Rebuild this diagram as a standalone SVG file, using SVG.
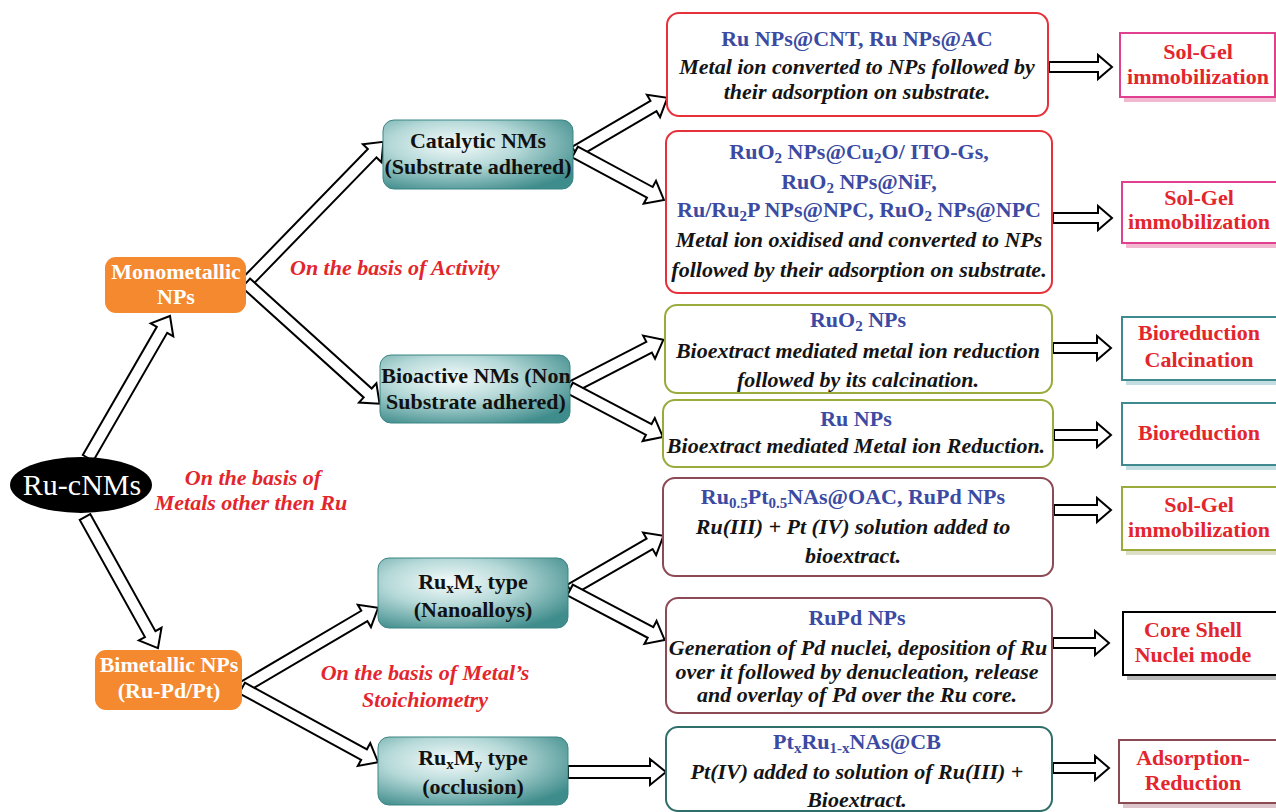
<svg xmlns="http://www.w3.org/2000/svg" width="1276" height="812" viewBox="0 0 1276 812" font-family="'Liberation Serif', 'Times New Roman', 'DejaVu Serif', serif">
<defs>
<radialGradient id="teal" cx="38%" cy="35%" r="75%">
<stop offset="0" stop-color="#f6fbfb"/>
<stop offset="0.45" stop-color="#b5d9d8"/>
<stop offset="1" stop-color="#3e8c8b"/>
</radialGradient>
<style>
text{font-family:'Liberation Serif','Times New Roman','DejaVu Serif',serif;font-weight:bold;font-size:22px;text-anchor:middle}
.w{fill:#ffffff}
.k{fill:#111111}
.b{fill:#3b4aa2}
.i{font-style:italic;fill:#141414}
.r{fill:#e3262d;font-style:italic}
.rr{fill:#e3262d}
.sub{font-size:15px}
.orange{fill:#f4892f}
.tn{fill:url(#teal);stroke:#3a8584;stroke-width:1}
.box{fill:#ffffff;stroke-width:2}
.arr{fill:#ffffff;stroke:#000000;stroke-width:2;stroke-linejoin:miter}
</style>
</defs>
<rect width="1276" height="812" fill="#ffffff"/>

<g id="connectors">
<polygon class="arr" transform="translate(88,458) rotate(-60)" points="0,-6 148,-6 148,-13 164,0 148,13 148,6 0,6"/>
<polygon class="arr" transform="translate(85,517) rotate(60.9)" points="0,-6 134,-6 134,-13 150,0 134,13 134,6 0,6"/>
<polygon class="arr" transform="translate(246,283) rotate(-45.8)" points="0,-6 181,-6 181,-13 197,0 181,13 181,6 0,6"/>
<polygon class="arr" transform="translate(246,283) rotate(42.1)" points="0,-6 164,-6 164,-13 180,0 164,13 164,6 0,6"/>
<polygon class="arr" transform="translate(242,688) rotate(-30.5)" points="0,-6 142,-6 142,-13 158,0 142,13 142,6 0,6"/>
<polygon class="arr" transform="translate(242,688) rotate(28.6)" points="0,-6 139,-6 139,-13 155,0 139,13 139,6 0,6"/>
<polygon class="arr" transform="translate(575,152) rotate(-30.4)" points="0,-6 91,-6 91,-13 107,0 91,13 91,6 0,6"/>
<polygon class="arr" transform="translate(575,152) rotate(28.3)" points="0,-6 85,-6 85,-13 101,0 85,13 85,6 0,6"/>
<polygon class="arr" transform="translate(570,388) rotate(-27.3)" points="0,-6 89,-6 89,-13 105,0 89,13 89,6 0,6"/>
<polygon class="arr" transform="translate(570,388) rotate(27.8)" points="0,-6 89,-6 89,-13 105,0 89,13 89,6 0,6"/>
<polygon class="arr" transform="translate(570,590) rotate(-30.1)" points="0,-6 92,-6 92,-13 108,0 92,13 92,6 0,6"/>
<polygon class="arr" transform="translate(570,590) rotate(27.8)" points="0,-6 91,-6 91,-13 107,0 91,13 91,6 0,6"/>
<polygon class="arr" transform="translate(568,772)" points="0,-6 82,-6 82,-13 98,0 82,13 82,6 0,6"/>
<polygon class="arr" transform="translate(1049,67)" points="0,-5 49,-5 49,-12 63,0 49,12 49,5 0,5"/>
<polygon class="arr" transform="translate(1053,218)" points="0,-5 45,-5 45,-12 59,0 45,12 45,5 0,5"/>
<polygon class="arr" transform="translate(1053,348)" points="0,-5 44,-5 44,-12 58,0 44,12 44,5 0,5"/>
<polygon class="arr" transform="translate(1054,435)" points="0,-5 43,-5 43,-12 57,0 43,12 43,5 0,5"/>
<polygon class="arr" transform="translate(1054,510)" points="0,-5 43,-5 43,-12 57,0 43,12 43,5 0,5"/>
<polygon class="arr" transform="translate(1053,643)" points="0,-5 42,-5 42,-12 56,0 42,12 42,5 0,5"/>
<polygon class="arr" transform="translate(1053,768)" points="0,-5 42,-5 42,-12 56,0 42,12 42,5 0,5"/>
</g>

<g id="labels">
<text class="r" x="290" y="275" style="text-anchor:start">On the basis of Activity</text>
<text class="r" x="253" y="485">On the basis of</text>
<text class="r" x="251" y="510">Metals other then Ru</text>
<text class="r" x="425" y="680">On the basis of Metal’s</text>
<text class="r" x="425" y="707">Stoichiometry</text>
</g>

<g id="ru-cnms">
<ellipse cx="81" cy="485" rx="71" ry="28" fill="#000000"/>
<text class="w" x="82" y="495" style="font-size:30px;font-weight:normal">Ru-cNMs</text>
</g>

<g id="monometallic">
<rect class="orange" x="105" y="257" width="141" height="56" rx="11"/>
<text class="w" x="176" y="279">Monometallic</text>
<text class="w" x="176" y="304">NPs</text>
</g>

<g id="bimetallic">
<rect class="orange" x="95" y="650" width="147" height="60" rx="11"/>
<text class="w" x="169" y="672">Bimetallic NPs</text>
<text class="w" x="169" y="698">(Ru-Pd/Pt)</text>
</g>

<g id="catalytic">
<rect class="tn" x="383" y="120" width="190" height="69" rx="11"/>
<text class="k" x="478" y="148">Catalytic NMs</text>
<text class="k" x="478" y="174">(Substrate adhered)</text>
</g>

<g id="bioactive">
<rect class="tn" x="380" y="355" width="190" height="68" rx="11"/>
<text class="k" x="476" y="383">Bioactive NMs (Non</text>
<text class="k" x="476" y="409">Substrate adhered)</text>
</g>

<g id="ruxmx">
<rect class="tn" x="378" y="558" width="190" height="70" rx="11"/>
<text class="k" x="473" y="589">Ru<tspan class="sub" dy="4">x</tspan><tspan dy="-4">M</tspan><tspan class="sub" dy="4">x</tspan><tspan dy="-4"> type</tspan></text>
<text class="k" x="473" y="617">(Nanoalloys)</text>
</g>

<g id="ruxmy">
<rect class="tn" x="378" y="737" width="190" height="68" rx="11"/>
<text class="k" x="473" y="765">Ru<tspan class="sub" dy="4">x</tspan><tspan dy="-4">M</tspan><tspan class="sub" dy="4">y</tspan><tspan dy="-4"> type</tspan></text>
<text class="k" x="473" y="794">(occlusion)</text>
</g>

<g id="box1">
<rect class="box" x="667" y="13" width="381" height="103" rx="12" stroke="#e8303a"/>
<text class="b" x="857" y="46">Ru NPs@CNT, Ru NPs@AC</text>
<text class="i" x="857" y="74">Metal ion converted to NPs followed by</text>
<text class="i" x="857" y="99">their adsorption on substrate.</text>
</g>

<g id="box2">
<rect class="box" x="666" y="131" width="386" height="162" rx="12" stroke="#e8303a"/>
<text class="b" x="859" y="159">RuO<tspan class="sub" dy="4">2</tspan><tspan dy="-4"> NPs@Cu</tspan><tspan class="sub" dy="4">2</tspan><tspan dy="-4">O/ ITO-Gs,</tspan></text>
<text class="b" x="859" y="189">RuO<tspan class="sub" dy="4">2</tspan><tspan dy="-4"> NPs@NiF,</tspan></text>
<text class="b" x="859" y="217">Ru/Ru<tspan class="sub" dy="4">2</tspan><tspan dy="-4">P NPs@NPC, RuO</tspan><tspan class="sub" dy="4">2</tspan><tspan dy="-4"> NPs@NPC</tspan></text>
<text class="i" x="859" y="247">Metal ion oxidised and converted to NPs</text>
<text class="i" x="859" y="277">followed by their adsorption on substrate.</text>
</g>

<g id="box3">
<rect class="box" x="665" y="305" width="387" height="88" rx="12" stroke="#9aab3c"/>
<text class="b" x="858" y="327">RuO<tspan class="sub" dy="4">2</tspan><tspan dy="-4"> NPs</tspan></text>
<text class="i" x="858" y="358">Bioextract mediated metal ion reduction</text>
<text class="i" x="858" y="387">followed by its calcination.</text>
</g>

<g id="box4">
<rect class="box" x="663" y="400" width="390" height="67" rx="12" stroke="#9aab3c"/>
<text class="b" x="856" y="426">Ru NPs</text>
<text class="i" x="856" y="453">Bioextract mediated Metal ion Reduction.</text>
</g>

<g id="box5">
<rect class="box" x="663" y="478" width="390" height="98" rx="12" stroke="#8c4a55"/>
<text class="b" x="853" y="504">Ru<tspan class="sub" dy="4">0.5</tspan><tspan dy="-4">Pt</tspan><tspan class="sub" dy="4">0.5</tspan><tspan dy="-4">NAs@OAC, RuPd NPs</tspan></text>
<text class="i" x="853" y="534">Ru(III) + Pt (IV) solution added to</text>
<text class="i" x="853" y="563">bioextract.</text>
</g>

<g id="box6">
<rect class="box" x="666" y="598" width="386" height="115" rx="12" stroke="#8c4a55"/>
<text class="b" x="857" y="625">RuPd NPs</text>
<text class="i" x="858" y="655">Generation of Pd nuclei, deposition of Ru</text>
<text class="i" x="857" y="679">over it followed by denucleation, release</text>
<text class="i" x="857" y="702">and overlay of Pd over the Ru core.</text>
</g>

<g id="box7">
<rect class="box" x="666" y="727" width="386" height="84" rx="12" stroke="#2f6f6a"/>
<text class="b" x="857" y="749">Pt<tspan class="sub" dy="4">x</tspan><tspan dy="-4">Ru</tspan><tspan class="sub" dy="4">1-x</tspan><tspan dy="-4">NAs@CB</tspan></text>
<text class="i" x="857" y="779">Pt(IV) added to solution of Ru(III) +</text>
<text class="i" x="857" y="807">Bioextract.</text>
</g>

<g id="solgel1">
<rect x="1124" y="38" width="155" height="64" fill="#f2b8cf"/>
<rect class="box" x="1120" y="33" width="155" height="64" stroke="#e0408f"/>
<text class="rr" x="1198" y="59">Sol-Gel</text>
<text class="rr" x="1198" y="84">immobilization</text>
</g>

<g id="solgel2">
<rect x="1126" y="187" width="155" height="61" fill="#f2b8cf"/>
<rect class="box" x="1122" y="182" width="155" height="61" stroke="#e0408f"/>
<text class="rr" x="1199" y="205">Sol-Gel</text>
<text class="rr" x="1199" y="229">immobilization</text>
</g>

<g id="biocalc">
<rect x="1126" y="322" width="155" height="63" fill="#c4dde0"/>
<rect class="box" x="1122" y="317" width="155" height="63" stroke="#3f8a8f"/>
<text class="rr" x="1199" y="340">Bioreduction</text>
<text class="rr" x="1199" y="367">Calcination</text>
</g>

<g id="bioreduction">
<rect x="1126" y="408" width="155" height="62" fill="#c4dde0"/>
<rect class="box" x="1122" y="403" width="155" height="62" stroke="#3f8a8f"/>
<text class="rr" x="1199" y="440">Bioreduction</text>
</g>

<g id="solgel3">
<rect x="1126" y="492" width="155" height="63" fill="#dcdfc6"/>
<rect class="box" x="1122" y="487" width="155" height="63" stroke="#9aab3c"/>
<text class="rr" x="1199" y="512">Sol-Gel</text>
<text class="rr" x="1199" y="537">immobilization</text>
</g>

<g id="coreshell">
<rect x="1127" y="617" width="155" height="63" fill="#b8b8b8"/>
<rect class="box" x="1123" y="612" width="155" height="63" stroke="#000000"/>
<text class="rr" x="1193" y="637">Core Shell</text>
<text class="rr" x="1193" y="662">Nuclei mode</text>
</g>

<g id="adsorption">
<rect x="1123" y="745" width="158" height="63" fill="#dcc6cb"/>
<rect class="box" x="1119" y="740" width="158" height="63" stroke="#8c4a55"/>
<text class="rr" x="1193" y="765">Adsorption-</text>
<text class="rr" x="1193" y="790">Reduction</text>
</g>
</svg>
